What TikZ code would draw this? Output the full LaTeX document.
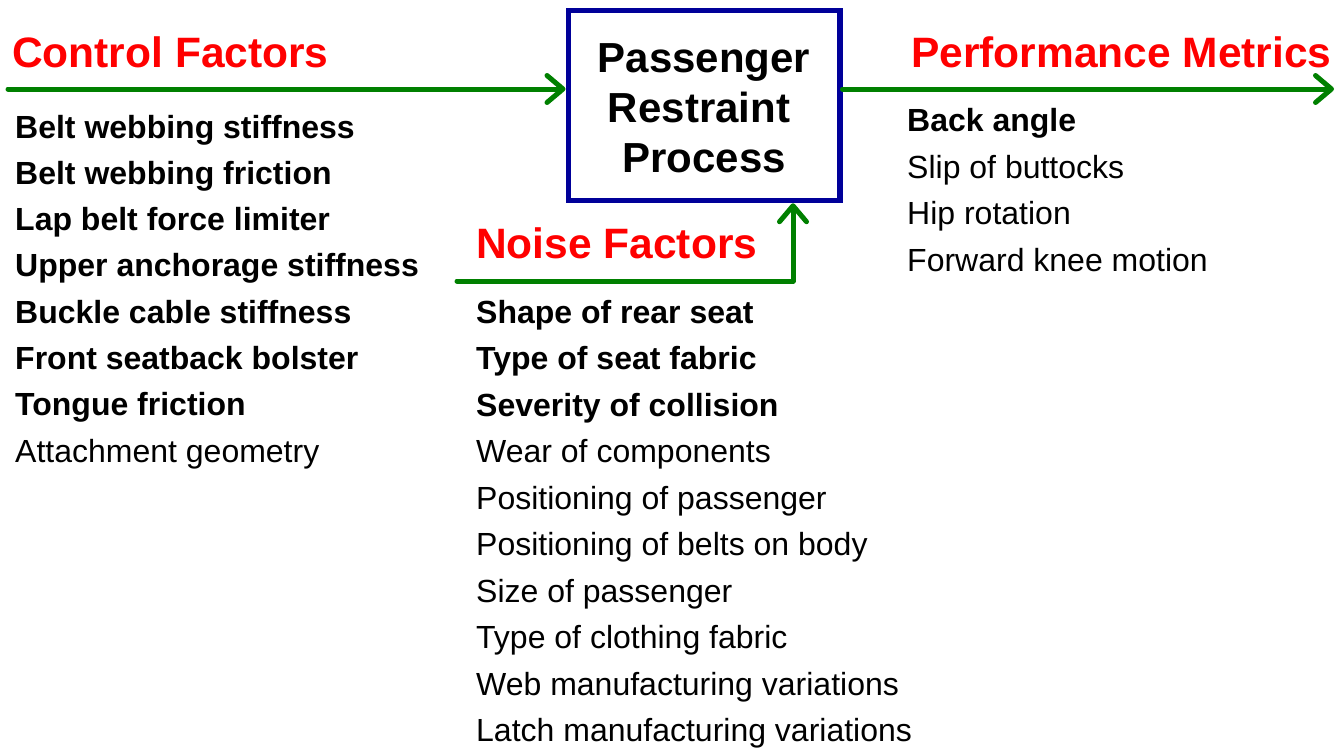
\documentclass[tikz,border=0pt]{standalone}
\usepackage{fontspec}
\setmainfont{Liberation Sans}
\usetikzlibrary{arrows.meta}
\definecolor{flowgreen}{RGB}{0,128,0}
\definecolor{boxnavy}{RGB}{0,0,153}
\definecolor{titlered}{RGB}{255,0,0}
\begin{document}
\begin{tikzpicture}[x=1pt,y=-1pt,
  item/.style={anchor=base west,inner sep=0pt,font=\fontsize{32}{36}\selectfont},
  bitem/.style={item,font=\fontsize{32}{36}\selectfont\bfseries},
  title/.style={anchor=base west,inner sep=0pt,text=titlered,font=\fontsize{42.5}{48}\selectfont\bfseries},
  flow/.style={draw=flowgreen,line width=5pt,line cap=round,line join=round,
    -{Straight Barb[length=16pt,width=27pt,line cap=round,line join=round]}},
  procbox/.style={draw=boxnavy,line width=5.5pt,minimum width=271.5pt,minimum height=190pt,inner sep=0pt}
]
\useasboundingbox (0,0) rectangle (1337,747);
\node[procbox] (box) at (704,105.5) {};
\node[anchor=base,inner sep=0pt,font=\fontsize{42}{50}\selectfont\bfseries] (p1) at (704,72) {Passenger};
\node[anchor=base,inner sep=0pt,font=\fontsize{42}{50}\selectfont\bfseries] (p2) at (699,122) {Restraint};
\node[anchor=base,inner sep=0pt,font=\fontsize{42}{50}\selectfont\bfseries] (p3) at (704,172) {Process};

\coordinate (cin) at (8,89);
\coordinate (pout) at (1334,89);
\coordinate (nin) at (457,281);
\coordinate (ncorner) at (793,281);

\draw[flow] (cin) -- (box.west |- cin);
\draw[flow] (box.east |- pout) -- (pout);
\draw[flow] (nin) -- (ncorner) -- (ncorner |- box.south);

\node[title] (ct) at (12,67) {Control Factors};
\node[title] (nt) at (476,258) {Noise Factors};
\node[title] (pt) at (911,67) {Performance Metrics};

\node[bitem] (c1) at (15,138) {Belt webbing stiffness};
\node[bitem] (c2) at (15,184.3) {Belt webbing friction};
\node[bitem] (c3) at (15,230.6) {Lap belt force limiter};
\node[bitem] (c4) at (15,276.9) {Upper anchorage stiffness};
\node[bitem] (c5) at (15,323.2) {Buckle cable stiffness};
\node[bitem] (c6) at (15,369.5) {Front seatback bolster};
\node[bitem] (c7) at (15,415.8) {Tongue friction};
\node[item] (c8) at (15,462.1) {Attachment geometry};

\node[bitem] (n1) at (476,323) {Shape of rear seat};
\node[bitem] (n2) at (476,369.5) {Type of seat fabric};
\node[bitem] (n3) at (476,416) {Severity of collision};
\node[item] (n4) at (476,462.5) {Wear of components};
\node[item] (n5) at (476,509) {Positioning of passenger};
\node[item] (n6) at (476,555.5) {Positioning of belts on body};
\node[item] (n7) at (476,602) {Size of passenger};
\node[item] (n8) at (476,648.5) {Type of clothing fabric};
\node[item] (n9) at (476,695) {Web manufacturing variations};
\node[item] (n10) at (476,741.5) {Latch manufacturing variations};

\node[bitem] (m1) at (907,131.5) {Back angle};
\node[item] (m2) at (907,178) {Slip of buttocks};
\node[item] (m3) at (907,224.5) {Hip rotation};
\node[item] (m4) at (907,271) {Forward knee motion};
\end{tikzpicture}
\end{document}
